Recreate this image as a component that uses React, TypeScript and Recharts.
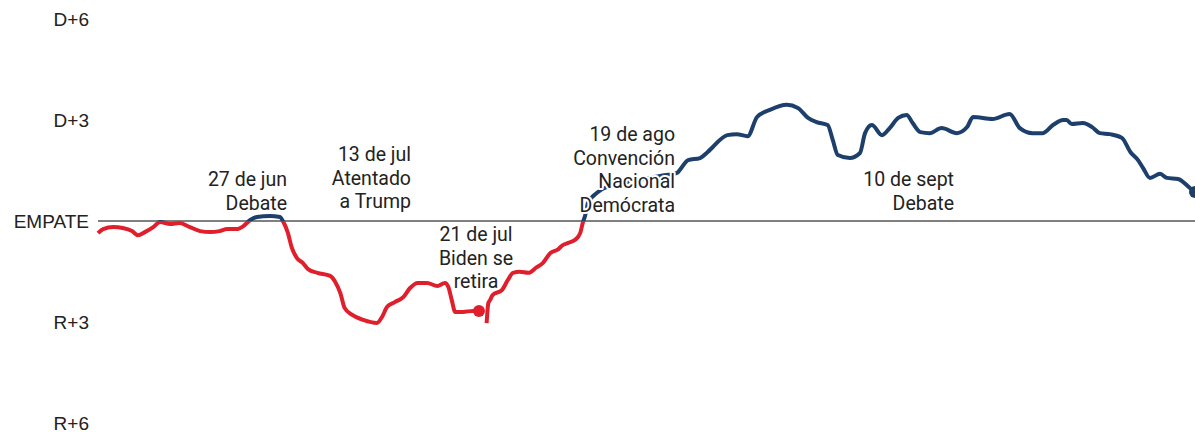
import { LineChart, Line, XAxis, YAxis, ReferenceLine } from "recharts";

// dias desde el 6 de junio; valores: + = ventaja demócrata, - = ventaja republicana
const diasBiden = [
  0, 0.6, 1.8, 2.9, 4.0, 4.7, 5.5, 6.5, 7.3, 8.5, 9.6, 10.8, 12.0, 13.2, 14.3, 15.2,
  16.3, 17.1, 17.9, 18.7, 20.2, 21.4, 21.8, 22.3, 22.8, 23.4, 24.1, 24.7, 25.8, 27.3,
  27.9, 28.5, 29.0, 29.9, 31.2, 32.8, 33.4, 34.0, 34.9, 35.9, 36.7, 37.6, 38.7, 39.9,
  40.8, 41.2, 41.6, 42.0, 42.9, 44.1, 44.8,
];
const valoresBiden = [
  -0.36, -0.24, -0.18, -0.21, -0.3, -0.42, -0.33, -0.18, -0.03, -0.09, -0.06, -0.18,
  -0.3, -0.33, -0.3, -0.24, -0.24, -0.15, 0.03, 0.12, 0.15, 0.12, -0.03, -0.33, -0.8,
  -1.1, -1.25, -1.43, -1.54, -1.63, -1.81, -2.14, -2.58, -2.79, -2.94, -3.03, -2.85,
  -2.55, -2.41, -2.26, -1.99, -1.84, -1.84, -1.93, -1.84, -1.96, -2.35, -2.7, -2.7,
  -2.67, -2.67,
];

const diasHarris = [
  45.7, 45.9, 46.1, 46.4, 47.5, 48.2, 48.8, 49.6, 50.6, 51.6, 52.3, 53.2, 54.0, 54.7,
  55.3, 56.1, 56.7, 57.0, 57.3, 57.6, 58.8, 60.1, 63.7, 66.1, 68.1, 68.4, 69.4, 70.8,
  71.7, 72.3, 74.0, 75.1, 76.4, 77.5, 79.0, 81.0, 82.3, 83.5, 84.5, 85.8, 86.4, 87.0,
  88.4, 89.6, 90.2, 91.0, 92.2, 93.1, 94.1, 95.1, 95.8, 96.7, 97.8, 99.2, 101.0, 102.2,
  102.9, 105.2, 107.2, 108.4, 109.9, 111.1, 112.3, 113.5, 113.9, 114.5, 115.8, 116.9,
  117.8, 119.0, 120.4, 121.4, 122.3, 122.9, 123.7, 124.9, 125.7, 127.0, 128.4, 129.0,
];
const valoresHarris = [
  -3.03, -2.44, -2.35, -2.2, -2.05, -1.75, -1.54, -1.51, -1.54, -1.37, -1.25, -0.95,
  -0.86, -0.71, -0.65, -0.56, -0.36, -0.06, 0.18, 0.53, 0.86, 1.04, 1.22, 1.34, 1.43,
  1.51, 1.81, 1.87, 2.05, 2.2, 2.55, 2.58, 2.52, 3.09, 3.3, 3.45, 3.36, 3.06, 2.94,
  2.85, 2.41, 1.96, 1.87, 2.02, 2.61, 2.85, 2.55, 2.76, 3.06, 3.15, 2.91, 2.64, 2.61,
  2.76, 2.61, 2.79, 3.09, 3.03, 3.18, 2.76, 2.61, 2.61, 2.85, 3.0, 3.0, 2.88, 2.91,
  2.79, 2.61, 2.58, 2.47, 2.05, 1.81, 1.57, 1.28, 1.4, 1.28, 1.25, 0.98, 0.86,
];

const ticksY = [-6, -3, 0, 3, 6];

const notas = [
  { lineas: ["27 de jun", "Debate"], x: 287, y: 186, anchor: "end" },
  { lineas: ["13 de jul", "Atentado", "a Trump"], x: 411, y: 161, anchor: "end" },
  { lineas: ["21 de jul", "Biden se", "retira"], x: 476, y: 241, anchor: "middle" },
  { lineas: ["19 de ago", "Convención", "Nacional", "Demócrata"], x: 675, y: 141, anchor: "end" },
  { lineas: ["10 de sept", "Debate"], x: 954, y: 186, anchor: "end" },
];

const ROJO = "#e01f2d";
const AZUL = "#1d3f6b";

const bidenData = diasBiden.map((d, i) => ({ d, v: valoresBiden[i] }));
const harrisData = diasHarris.map((d, i) => ({ d, v: valoresHarris[i] }));

const etiquetaY = (v: number) => (v === 0 ? "EMPATE" : v > 0 ? `D+${v}` : `R+${-v}`);

const puntoFinal = (n: number) => (props: any) => {
  const { cx, cy, index, value } = props;
  if (index !== n - 1) return <g key={`p${index}`} />;
  return <circle key={`p${index}`} cx={cx} cy={cy} r={6} fill={value < 0 ? ROJO : AZUL} />;
};

export default function App() {
  return (
    <div style={{ position: "relative", width: 1195, height: 432 }}>
      <style>{`body{margin:0;overflow:hidden}`}</style>
      <LineChart
        width={1195}
        height={432}
        margin={{ top: 19, right: 0, bottom: 9, left: 0 }}
      >
        <defs>
          <linearGradient id="partido" gradientUnits="userSpaceOnUse" x1="0" y1="19" x2="0" y2="423">
            <stop offset="0" stopColor={AZUL} />
            <stop offset="0.5" stopColor={AZUL} />
            <stop offset="0.5" stopColor={ROJO} />
            <stop offset="1" stopColor={ROJO} />
          </linearGradient>
        </defs>
        <XAxis dataKey="d" type="number" domain={[0, 129]} hide />
        <YAxis
          type="number"
          domain={[-6, 6]}
          ticks={ticksY}
          width={98}
          axisLine={false}
          tickLine={false}
          tickMargin={3}
          tickFormatter={etiquetaY}
          tick={{ fontSize: 19, fontFamily: "Liberation Sans", fill: "#222" }}
          interval={0}
        />
        <ReferenceLine y={0} stroke="#000" strokeWidth={1} />
        <Line
          data={bidenData}
          dataKey="v"
          type="monotone"
          stroke="url(#partido)"
          strokeWidth={4}
          dot={puntoFinal(bidenData.length)}
          activeDot={false}
          isAnimationActive={false}
        />
        <Line
          data={harrisData}
          dataKey="v"
          type="monotone"
          stroke="url(#partido)"
          strokeWidth={4}
          dot={puntoFinal(harrisData.length)}
          activeDot={false}
          isAnimationActive={false}
        />
      </LineChart>
      <svg
        width={1195}
        height={432}
        style={{ position: "absolute", left: 0, top: 0, pointerEvents: "none" }}
      >
        {notas.map((n, i) => (
          <text
            key={i}
            x={n.x}
            y={n.y}
            textAnchor={n.anchor as any}
            fontSize={19.5}
            fontFamily="Roboto"
            fill="#222"
            stroke="#fff"
            strokeWidth={4}
            strokeLinejoin="round"
            paintOrder="stroke"
          >
            {n.lineas.map((l, j) => (
              <tspan key={j} x={n.x} dy={j === 0 ? 0 : 23.7}>
                {l}
              </tspan>
            ))}
          </text>
        ))}
      </svg>
    </div>
  );
}
